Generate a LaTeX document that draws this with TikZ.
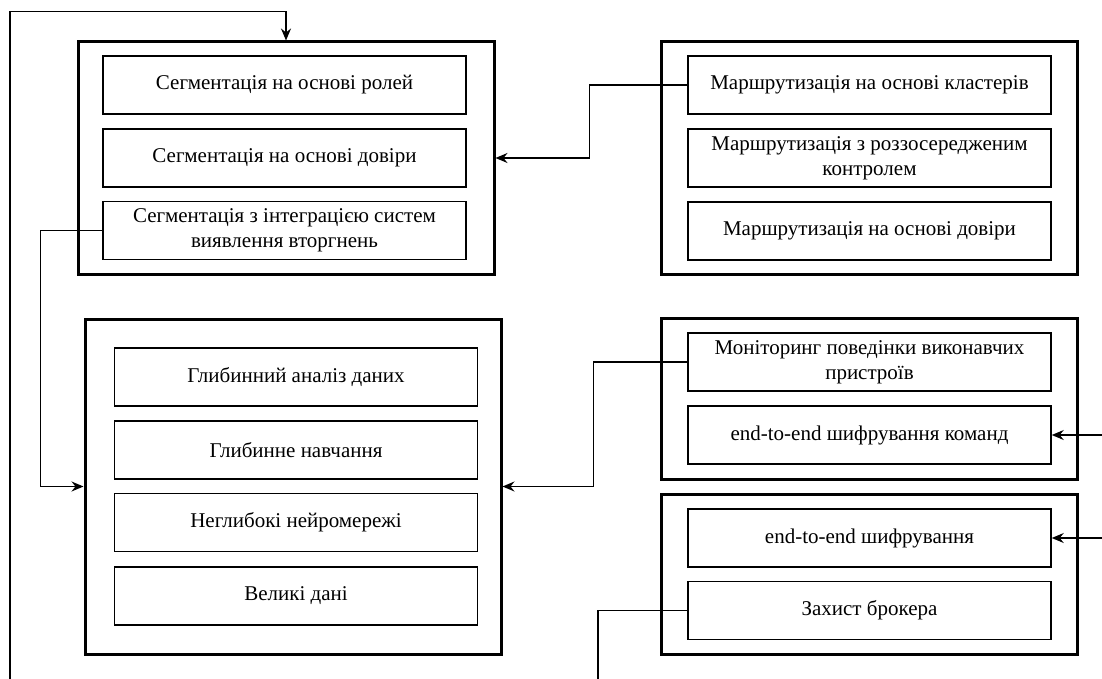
\documentclass[tikz,border=0pt]{standalone}
\usepackage{fontspec}
\setmainfont{Liberation Serif}
\usetikzlibrary{arrows.meta}
\begin{document}
\begin{tikzpicture}[x=1pt,y=-1pt,
  group/.style={draw,line width=3pt,minimum width=416pt,inner sep=0pt},
  item/.style={draw,line width=1.5pt,minimum width=363pt,minimum height=58pt,inner sep=2pt,align=center,
    font=\fontsize{21}{25}\selectfont},
  conn/.style={line width=1.4pt},
  arr/.style={conn,-{Stealth[length=12pt,width=10pt,inset=4pt]}}]
\useasboundingbox (0,0) rectangle (1102,679);
% groups
\node[group,minimum height=232pt] (g1) at (286,158) {};
\node[group,minimum height=232pt] (g2) at (869,158) {};
\node[group,minimum height=335pt] (g3) at (293,486.5) {};
\node[group,minimum height=161pt] (g4) at (869,398.5) {};
\node[group,minimum height=160pt] (g5) at (869,574) {};
% items
\node[item] (s1) at (284.5,85) {Сегментація на основі ролей};
\node[item] (s2) at (284.5,158) {Сегментація на основі довіри};
\node[item] (s3) at (284.5,230.5) {Сегментація з інтеграцією систем\\виявлення вторгнень};
\node[item] (m1) at (869.5,85) {Маршрутизація на основі кластерів};
\node[item] (m2) at (869.5,158) {Маршрутизація з роззосередженим\\контролем};
\node[item] (m3) at (869.5,231) {Маршрутизація на основі довіри};
\node[item] (d1) at (296,377) {Глибинний аналіз даних};
\node[item] (d2) at (296,450) {Глибинне навчання};
\node[item] (d3) at (296,522.5) {Неглибокі нейромережі};
\node[item] (d4) at (296,596) {Великі дані};
\node[item] (n1) at (869.5,362) {Моніторинг поведінки виконавчих\\пристроїв};
\node[item] (n2) at (869.5,435) {end-to-end шифрування команд};
\node[item] (e1) at (869.5,538) {end-to-end шифрування};
\node[item] (e2) at (869.5,610.5) {Захист брокера};
% free ends
\coordinate (lb) at (10,679);
\coordinate (r1) at (1102,435);
\coordinate (r2) at (1102,538);
\coordinate (b2) at (598,679);
% connectors
\draw[arr] (lb) |- ([yshift=29pt]g1.north) -- (g1.north);
\draw[arr] (s3.west) -- ++(-62,0) |- (g3.west);
\draw[arr] (m1.west) -- ++(-98,0) |- (g1.east);
\draw[arr] (n1.west) -- ++(-94,0) |- (g3.east);
\draw[arr] (r1) -- (n2.east);
\draw[arr] (r2) -- (e1.east);
\draw[conn] (e2.west) -| (b2);
\end{tikzpicture}
\end{document}
